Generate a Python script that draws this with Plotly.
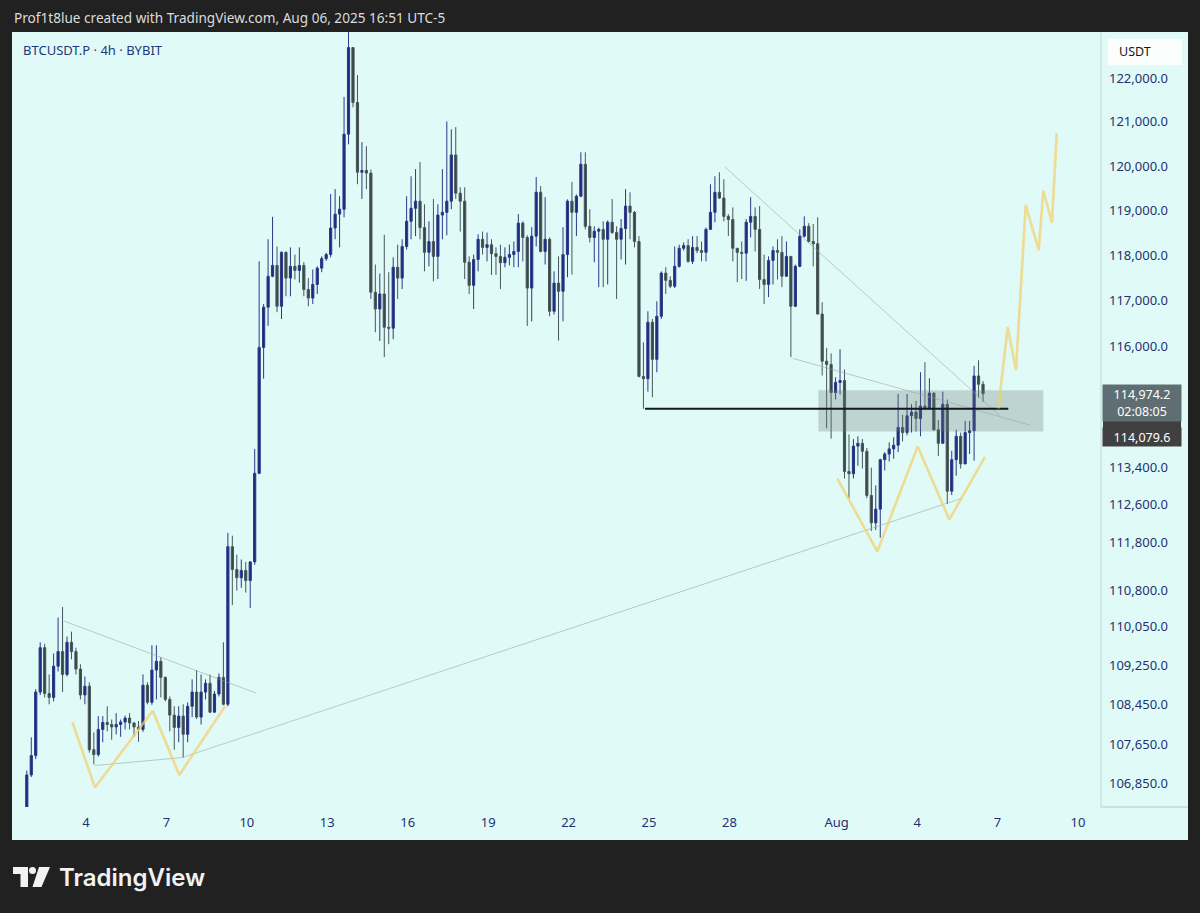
import math
import pandas as pd
import plotly.graph_objects as go

# ---------------- data ----------------
start_time = "2025-07-01 19:00"
first_open = 106380

close = [
107030, 107420, 108710, 109620, 108680, 108600, 109240, 109540, 109070, 109730,
109540, 109180, 108650, 108830, 107540, 107440, 107950, 108090, 108050, 108000,
108050, 108100, 108180, 108080, 108000, 107950, 108850, 108500, 109160, 109340,
109010, 108560, 108240, 107990, 108220, 107850, 108420, 108710, 108200, 108710,
108890, 108300, 108670, 109010, 108460, 111720, 111240, 111070, 111220, 111010,
111400, 113270, 115980, 116860, 117540, 117780, 116880, 118070, 117500, 117760,
117670, 117780, 117250, 117060, 117360, 117720, 117930, 118020, 118610, 118920,
119030, 120720, 122700, 121440, 119860, 119900, 119840, 117190, 116820, 117150,
116420, 116400, 117740, 117500, 118200, 118760, 119050, 119210, 118620, 118070,
118310, 117980, 118900, 118960, 119210, 120250, 119390, 119210, 117850, 117340,
117910, 118360, 118180, 118240, 118040, 117980, 117840, 117960, 118020, 118090,
118720, 118400, 117280, 118430, 119410, 118090, 118360, 116770, 117390, 117210,
118020, 119210, 118960, 119320, 120040, 118650, 118400, 118540, 118580, 118360,
118740, 118510, 118360, 118600, 119100, 118960, 118310, 115350, 115300, 116530,
115720, 116660, 117610, 117450, 117320, 117760, 118160, 118220, 117870, 118180,
118110, 118070, 118580, 118960, 119410, 119280, 118870, 118800, 118160, 118070,
118050, 118740, 118870, 118580, 117470, 117360, 117890, 118110, 118070, 117540,
117980, 116880, 117760, 118430, 118650, 118310, 118260, 116710, 115680, 115610,
115000, 115220, 115260, 113310, 113260, 113850, 113910, 113740, 112800, 112220,
112510, 113560, 113680, 113790, 113870, 114250, 114140, 114500, 114580, 114440,
114710, 114670, 114990, 114200, 113910, 114750, 112890, 113560, 114060, 113470,
114140, 114180, 115360, 115180, 114974.2,
]

high = [
107120, 107790, 108770, 109730, 109700, 109070, 109500, 110240, 110460, 109850,
109950, 109620, 109280, 109030, 108910, 107890, 108220, 108220, 108420, 108150,
108280, 108150, 108230, 108280, 108100, 108120, 109070, 108910, 109670, 109670,
109420, 109030, 108620, 108420, 108420, 108460, 108500, 108970, 109160, 109070,
108970, 109070, 108730, 109090, 109730, 112010, 111950, 111550, 111450, 111400,
111420, 113790, 117870, 116930, 118360, 118860, 118200, 118090, 118090, 118180,
118020, 118180, 117850, 117500, 117690, 117760, 117980, 118060, 119370, 119480,
119320, 121570, 123080, 122700, 122070, 120540, 120450, 119920, 117800, 117600,
118460, 117630, 117960, 118240, 118360, 119320, 119770, 119930, 120090, 119140,
118760, 119260, 119140, 119930, 121010, 120830, 120880, 119520, 119520, 117980,
118020, 118470, 118530, 118510, 118360, 118180, 118240, 118180, 118240, 118310,
118920, 118760, 118450, 118630, 119750, 119550, 119300, 118400, 117650, 117980,
118630, 119250, 119640, 119360, 120310, 120310, 119030, 118650, 118620, 118760,
118780, 119260, 118650, 118810, 119480, 119410, 118990, 118430, 116090, 116770,
116600, 116990, 117650, 117740, 117540, 118200, 118240, 118290, 118360, 118430,
118430, 118310, 118620, 119590, 119770, 119860, 119700, 118920, 119070, 118160,
118310, 118810, 119300, 119070, 119100, 118020, 117980, 118200, 118360, 118430,
118310, 117980, 117800, 118580, 118870, 118720, 118700, 118850, 116970, 115970,
115850, 115330, 115940, 115500, 114100, 114000, 114060, 114000, 113810, 113390,
113010, 113580, 113720, 113930, 114040, 114970, 114520, 114970, 114750, 114820,
115440, 115660, 115310, 115000, 114410, 115020, 114850, 113750, 114200, 114140,
114390, 114390, 115580, 115700, 115250,
]

low = [
106300, 106990, 107350, 108650, 108600, 108460, 108520, 109130, 108710, 109030,
109380, 109070, 108560, 108460, 107480, 107240, 107400, 107690, 107910, 107740,
107850, 107800, 107950, 107950, 107800, 107700, 107900, 108460, 108450, 108560,
108600, 108520, 107910, 107540, 107690, 107380, 107690, 108200, 108160, 108050,
108560, 108280, 108290, 108620, 108440, 108420, 110500, 110800, 110860, 110760,
110440, 111340, 113250, 115300, 116450, 117520, 116750, 116600, 117100, 117100,
117470, 117400, 117100, 116880, 116930, 117150, 117630, 117880, 117960, 118360,
118180, 118850, 120490, 121330, 119590, 119260, 119480, 117040, 116310, 116120,
115770, 116050, 116160, 117040, 117260, 118130, 118360, 118430, 118360, 117650,
117760, 117430, 117480, 118360, 118450, 119030, 119260, 118530, 117480, 117150,
116820, 117650, 118020, 117870, 117570, 117570, 117260, 117740, 117780, 117740,
117740, 117870, 116450, 116550, 118200, 118070, 117800, 116660, 116700, 116130,
116550, 117520, 117580, 118430, 119300, 118580, 118290, 117850, 117300, 117300,
117360, 118480, 117040, 117910, 117800, 118360, 118180, 115330, 114650, 115020,
114900, 115440, 116600, 117150, 117280, 117280, 117730, 118110, 117840, 117810,
118050, 117870, 117870, 118580, 118740, 119260, 118760, 118430, 117870, 117410,
117480, 117440, 118400, 118090, 117260, 116930, 117080, 117360, 117470, 117300,
117540, 115770, 116860, 117740, 118400, 118290, 117760, 116700, 115370, 114230,
114010, 114850, 114960, 113160, 112740, 113160, 113430, 113370, 112740, 112050,
112070, 111910, 113330, 113520, 113580, 113720, 113950, 114080, 114140, 114160,
114060, 114630, 114630, 114180, 113640, 113910, 112620, 112810, 113220, 113370,
113470, 113680, 113540, 114890, 114800,
]

# drawings (time, price)
w_left_t = ["2025-07-03 11:44", "2025-07-04 08:03", "2025-07-06 11:43", "2025-07-07 11:31", "2025-07-09 04:26"]
w_left_p = [108100, 106780, 108330, 107030, 108420]
w_right_t = ["2025-08-01 00:33", "2025-08-02 12:21", "2025-08-04 00:32", "2025-08-05 04:49", "2025-08-06 12:46"]
w_right_p = [113160, 111620, 113840, 112290, 113620]
proj_t = ["2025-08-07 00:40", "2025-08-07 09:06", "2025-08-07 16:31", "2025-08-08 01:12",
          "2025-08-08 12:50", "2025-08-08 16:58", "2025-08-09 00:45", "2025-08-09 04:58"]
proj_p = [114660, 116420, 115490, 119120, 118120, 119440, 118730, 120740]

trend1_t = ["2025-07-03 04:18", "2025-07-10 08:11"]
trend1_p = [110170, 108690]
trend2_t = ["2025-07-04 08:03", "2025-07-07 13:57", "2025-08-05 16:10"]
trend2_p = [107220, 107380, 112740]
trend3_t = ["2025-07-27 20:01", "2025-08-07 02:12"]
trend3_p = [119975, 114500]
trend4_t = ["2025-07-30 08:54", "2025-08-08 05:04"]
trend4_p = [115740, 114300]

zone_t = ["2025-07-31 07:34", "2025-08-08 16:58"]
zone_p = [114160, 115050]
level_t = ["2025-07-24 20:24", "2025-08-07 09:36"]
level_p = 114650

x_range = ["2025-07-01 05:45", "2025-08-10 19:43"]
y_range_price = [106388, 123059]

xtick_dates = ["2025-07-04", "2025-07-07", "2025-07-10", "2025-07-13", "2025-07-16", "2025-07-19",
               "2025-07-22", "2025-07-25", "2025-07-28", "2025-08-01", "2025-08-04", "2025-08-07", "2025-08-10"]
xtick_text = ["4", "7", "10", "13", "16", "19", "22", "25", "28", "Aug", "4", "7", "10"]
ytick_vals = [122000, 121000, 120000, 119000, 118000, 117000, 116000, 113400, 112600,
              111800, 110800, 110050, 109250, 108450, 107650, 106850]

header = "Prof1t8lue created with TradingView.com, Aug 06, 2025 16:51 UTC-5"
title = "BTCUSDT.P · 4h · BYBIT"
last_price_label = "114,974.2<br>02:08:05"
other_price_label = "114,079.6"

# ---------------- build ----------------
times = pd.date_range(start_time, periods=len(close), freq="4h")
opens = [first_open] + close[:-1]

UP = "#1c2a80"
DOWN = "#37464b"
NAVY = "#1f3170"
BG = "#e0fbf7"
DARK = "#212121"
FONT = "Noto Sans"

fig = go.Figure()
fig.add_trace(go.Candlestick(
    x=times, open=opens, high=high, low=low, close=close,
    increasing=dict(fillcolor=UP, line=dict(color="#2a3886", width=1)),
    decreasing=dict(fillcolor=DOWN, line=dict(color="#47555a", width=1)),
    whiskerwidth=0, hoverinfo="skip", showlegend=False,
))

# zone rectangle
fig.add_trace(go.Scatter(
    x=[zone_t[0], zone_t[1], zone_t[1], zone_t[0], zone_t[0]],
    y=[zone_p[0], zone_p[0], zone_p[1], zone_p[1], zone_p[0]],
    mode="lines", fill="toself", fillcolor="rgba(110,122,122,0.30)",
    line=dict(width=0), hoverinfo="skip", showlegend=False))

gray = "rgba(150,162,162,0.55)"
for tt, pp in [(trend1_t, trend1_p), (trend2_t, trend2_p), (trend3_t, trend3_p), (trend4_t, trend4_p)]:
    fig.add_trace(go.Scatter(x=tt, y=pp, mode="lines", line=dict(color=gray, width=1),
                             hoverinfo="skip", showlegend=False))

fig.add_trace(go.Scatter(x=level_t, y=[level_p, level_p], mode="lines",
                         line=dict(color="#131722", width=2), hoverinfo="skip", showlegend=False))

yellow = "rgba(243,206,110,0.72)"
for tt, pp in [(w_left_t, w_left_p), (w_right_t, w_right_p), (proj_t, proj_p)]:
    fig.add_trace(go.Scatter(x=tt, y=pp, mode="lines", line=dict(color=yellow, width=2.6),
                             hoverinfo="skip", showlegend=False))

# pixel -> paper helpers (plot area: x 12..1100, y 32..807)
def PX(px):
    return (px - 12) / 1088.0

def PY(py):
    return (807 - py) / 775.0

def path_from(points):
    return "M " + " L ".join(f"{PX(a):.5f},{PY(b):.5f}" for a, b in points) + " Z"

shapes = [
    dict(type="rect", xref="paper", yref="paper", x0=PX(12), x1=PX(1188), y0=PY(840), y1=PY(32),
         fillcolor=BG, line=dict(width=0), layer="below"),
    dict(type="line", xref="paper", yref="paper", x0=PX(1101), x1=PX(1101), y0=PY(807), y1=PY(32),
         line=dict(color="#c4d5d2", width=1)),
    dict(type="line", xref="paper", yref="paper", x0=PX(1101), x1=PX(1188), y0=PY(807), y1=PY(807),
         line=dict(color="#b9c9c6", width=1)),
    dict(type="rect", xref="paper", yref="paper", x0=PX(1108), x1=PX(1182), y0=PY(65), y1=PY(39),
         fillcolor="#fbfefd", line=dict(width=0)),
    # partially hidden price label strip between the two price boxes
    dict(type="rect", xref="paper", yref="paper", x0=PX(1103), x1=PX(1181), y0=PY(428), y1=PY(421),
         fillcolor="#3f3f3f", line=dict(width=0)),
    # TradingView logo
    dict(type="path", xref="paper", yref="paper",
         path=path_from([(13, 867), (28, 867), (28, 887), (20.5, 887), (20.5, 874), (13, 874)]),
         fillcolor="#f2f2f2", line=dict(width=0)),
    dict(type="circle", xref="paper", yref="paper", x0=PX(29), x1=PX(36), y0=PY(874), y1=PY(867),
         fillcolor="#f2f2f2", line=dict(width=0)),
    dict(type="path", xref="paper", yref="paper",
         path=path_from([(39, 867), (50, 867), (41.5, 887), (32.5, 887)]),
         fillcolor="#f2f2f2", line=dict(width=0)),
]

annotations = [
    dict(xref="paper", yref="paper", x=PX(12), y=PY(17), xanchor="left", yanchor="middle",
         text=header, showarrow=False, font=dict(family=FONT, size=13.6, color="#dcdcdc")),
    dict(xref="paper", yref="paper", x=PX(21), y=PY(50), xanchor="left", yanchor="middle",
         text=title, showarrow=False, font=dict(family=FONT, size=13, color="#22377a")),
    dict(xref="paper", yref="paper", x=PX(1117), y=PY(52), xanchor="left", yanchor="middle",
         text="USDT", showarrow=False, font=dict(family=FONT, size=12.5, color="#131722")),
    dict(xref="paper", yref="paper", x=PX(1142), y=PY(403), xanchor="center", yanchor="middle",
         text=last_price_label, showarrow=False, width=78, height=36, borderpad=0,
         bgcolor="#5e6e73", font=dict(family=FONT, size=12.5, color="#ffffff")),
    dict(xref="paper", yref="paper", x=PX(1142), y=PY(437), xanchor="center", yanchor="middle",
         text=other_price_label, showarrow=False, width=78, height=18, borderpad=0,
         bgcolor="#404040", font=dict(family=FONT, size=12.5, color="#ffffff")),
    dict(xref="paper", yref="paper", x=PX(57), y=PY(877), xanchor="left", yanchor="middle",
         text="TradingView", showarrow=False,
         font=dict(family="Inter", size=24, color="#f2f2f2", weight=600)),
]

fig.update_layout(
    width=1200, height=913,
    margin=dict(l=12, r=100, t=32, b=106),
    paper_bgcolor=DARK, plot_bgcolor=BG,
    showlegend=False, hovermode=False,
    shapes=shapes, annotations=annotations,
    xaxis=dict(type="date", range=x_range, rangeslider=dict(visible=False),
               showgrid=False, zeroline=False, showline=False, ticks="",
               tickvals=xtick_dates, ticktext=xtick_text, ticklabelstandoff=6,
               tickfont=dict(family=FONT, size=13, color=NAVY), fixedrange=True),
    yaxis=dict(type="log", side="right",
               range=[math.log10(y_range_price[0]), math.log10(y_range_price[1])],
               showgrid=False, zeroline=False, showline=False, ticks="",
               tickvals=ytick_vals, ticktext=[f"{v:,.1f}" for v in ytick_vals],
               ticklabelstandoff=8,
               tickfont=dict(family=FONT, size=13, color=NAVY), fixedrange=True),
)

fig.write_html(
    "out.html",
    config={"displayModeBar": False},
    post_script="document.body.style.margin='0';document.body.style.padding='0';"
                "document.body.style.background='#212121';document.body.style.overflow='hidden';",
)
